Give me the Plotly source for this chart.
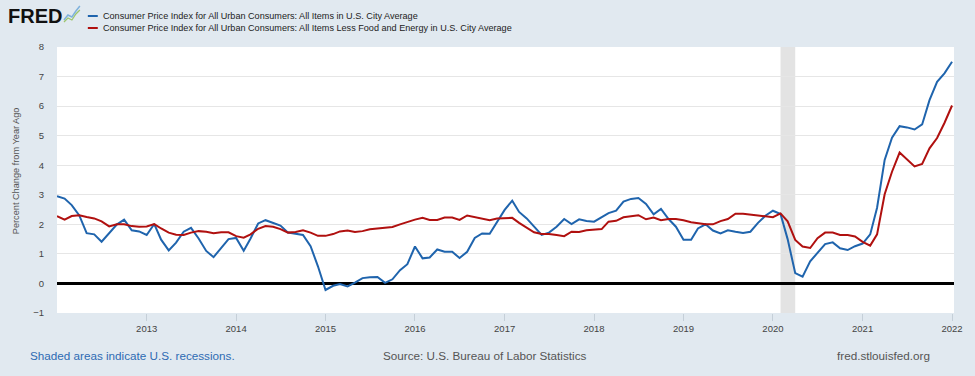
import plotly.graph_objects as go
import pandas as pd

# ---------------- data ----------------
dates = pd.date_range("2012-01-01", "2022-01-01", freq="MS")

cpi_all = [
    2.95, 2.87, 2.65, 2.30, 1.70, 1.66, 1.41, 1.69, 1.99, 2.16, 1.80, 1.76,   # 2012
    1.64, 2.01, 1.48, 1.12, 1.38, 1.75, 1.88, 1.52, 1.10, 0.89, 1.22, 1.50,   # 2013
    1.54, 1.11, 1.52, 2.03, 2.14, 2.05, 1.96, 1.72, 1.67, 1.64, 1.26, 0.58,   # 2014
    -0.22, -0.08, -0.02, -0.10, 0.03, 0.18, 0.21, 0.22, 0.02, 0.14, 0.45, 0.65,  # 2015
    1.25, 0.85, 0.88, 1.15, 1.07, 1.07, 0.86, 1.07, 1.54, 1.69, 1.68, 2.07,   # 2016
    2.49, 2.80, 2.42, 2.20, 1.92, 1.64, 1.72, 1.92, 2.18, 2.01, 2.17, 2.11,   # 2017
    2.09, 2.24, 2.38, 2.46, 2.77, 2.86, 2.89, 2.69, 2.34, 2.52, 2.18, 1.92,   # 2018
    1.48, 1.48, 1.86, 2.00, 1.79, 1.69, 1.80, 1.75, 1.71, 1.75, 2.05, 2.29,   # 2019
    2.46, 2.35, 1.50, 0.35, 0.23, 0.75, 1.05, 1.33, 1.39, 1.19, 1.13, 1.26,   # 2020
    1.35, 1.66, 2.56, 4.18, 4.93, 5.32, 5.28, 5.21, 5.38, 6.20, 6.82, 7.11,   # 2021
    7.50,                                                                     # 2022
]

cpi_core = [
    2.28, 2.16, 2.28, 2.31, 2.25, 2.20, 2.10, 1.93, 2.00, 2.00, 1.94, 1.92,   # 2012
    1.93, 2.01, 1.86, 1.72, 1.65, 1.64, 1.72, 1.77, 1.75, 1.70, 1.73, 1.73,   # 2013
    1.60, 1.55, 1.66, 1.85, 1.94, 1.92, 1.84, 1.72, 1.74, 1.80, 1.72, 1.61,   # 2014
    1.61, 1.67, 1.76, 1.79, 1.74, 1.77, 1.83, 1.85, 1.88, 1.91, 2.00, 2.09,   # 2015
    2.16, 2.22, 2.15, 2.15, 2.23, 2.23, 2.15, 2.30, 2.25, 2.20, 2.14, 2.20,   # 2016
    2.22, 2.22, 2.05, 1.90, 1.73, 1.67, 1.67, 1.64, 1.60, 1.75, 1.74, 1.80,   # 2017
    1.82, 1.84, 2.09, 2.12, 2.24, 2.27, 2.31, 2.17, 2.23, 2.14, 2.18, 2.18,   # 2018
    2.14, 2.07, 2.03, 2.00, 2.00, 2.11, 2.18, 2.36, 2.36, 2.32, 2.30, 2.27,   # 2019
    2.24, 2.37, 2.10, 1.47, 1.25, 1.20, 1.53, 1.72, 1.72, 1.64, 1.64, 1.59,   # 2020
    1.41, 1.28, 1.66, 3.02, 3.78, 4.43, 4.20, 3.96, 4.04, 4.57, 4.92, 5.43,   # 2021
    6.02,                                                                     # 2022
]

series_names = [
    "Consumer Price Index for All Urban Consumers: All Items in U.S. City Average",
    "Consumer Price Index for All Urban Consumers: All Items Less Food and Energy in U.S. City Average",
]
series_colors = ["#1f64ad", "#b0100f"]

recession_start = ["2020-02-01"]
recession_end = ["2020-04-01"]

y_tick_values = list(range(-1, 9))
x_tick_years = list(range(2013, 2023))

# ---------------- layout helpers ----------------
W, H = 975, 376
L, R, T, B = 57, 959, 47, 313


def px(x):
    return (x - L) / (R - L)


def py(y):
    return (B - y) / (B - T)


FONT = "Liberation Sans, Arial, sans-serif"
BG = "#e1e9f0"

fig = go.Figure()
for vals, name, col in zip([cpi_all, cpi_core], series_names, series_colors):
    fig.add_trace(go.Scatter(
        x=dates, y=vals, mode="lines", name=name,
        line=dict(color=col, width=2), showlegend=False,
        hovertemplate="%{x|%Y-%m}: %{y:.1f}<extra></extra>",
    ))

shapes = []
for s, e in zip(recession_start, recession_end):
    shapes.append(dict(type="rect", xref="x", yref="paper", x0=s, x1=e, y0=0, y1=1,
                       fillcolor="#e3e3e3", line=dict(width=0), layer="below"))

# legend swatches
for i, col in enumerate(series_colors):
    yy = py(16 + 12 * i)
    shapes.append(dict(type="line", xref="paper", yref="paper",
                       x0=px(88), x1=px(98), y0=yy, y1=yy,
                       line=dict(color=col, width=2)))

# small FRED chart icon
shapes.append(dict(type="path", xref="paper", yref="paper",
                   path="M {},{} L {},{} L {},{} L {},{} L {},{}".format(
                       px(64), py(20), px(68), py(15), px(72), py(17), px(76), py(11), px(80), py(6)),
                   line=dict(color="#7fb2dc", width=1.5)))
shapes.append(dict(type="path", xref="paper", yref="paper",
                   path="M {},{} L {},{} L {},{} L {},{} L {},{}".format(
                       px(64), py(22), px(68), py(18), px(72), py(20), px(76), py(14), px(80), py(10)),
                   line=dict(color="#9cc56b", width=1.2)))

annotations = [
    dict(text="<b>FRED</b>", x=px(6), y=py(16), xref="paper", yref="paper",
         xanchor="left", yanchor="middle", showarrow=False,
         font=dict(family="Liberation Sans, Arial, sans-serif", size=20, color="#111111")),
]
for i, name in enumerate(series_names):
    annotations.append(dict(text=name, x=px(101), y=py(16 + 12 * i), xref="paper", yref="paper",
                            xanchor="left", yanchor="middle", showarrow=False,
                            font=dict(family=FONT, size=9.1, color="#222222")))

annotations += [
    dict(text="Percent Change from Year Ago", x=px(16), y=py(171), xref="paper", yref="paper",
         xanchor="center", yanchor="middle", textangle=-90, showarrow=False,
         font=dict(family=FONT, size=9.2, color="#555555")),
    dict(text="Shaded areas indicate U.S. recessions.", x=px(28), y=py(355), xref="paper", yref="paper",
         xanchor="left", yanchor="middle", showarrow=False,
         font=dict(family=FONT, size=11.7, color="#2e6bb3")),
    dict(text="Source: U.S. Bureau of Labor Statistics", x=px(383), y=py(355), xref="paper", yref="paper",
         xanchor="left", yanchor="middle", showarrow=False,
         font=dict(family=FONT, size=11.7, color="#555555")),
    dict(text="fred.stlouisfed.org", x=px(937), y=py(355), xref="paper", yref="paper",
         xanchor="right", yanchor="middle", showarrow=False,
         font=dict(family=FONT, size=11.7, color="#555555")),
]

fig.update_layout(
    width=W, height=H,
    margin=dict(l=L, r=W - R, t=T, b=H - B, pad=0),
    paper_bgcolor=BG, plot_bgcolor="white",
    font=dict(family=FONT, size=10, color="#555555"),
    shapes=shapes, annotations=annotations,
    xaxis=dict(
        type="date", range=["2012-01-01", "2022-01-09"],
        tickvals=[f"{y}-01-01" for y in x_tick_years],
        ticktext=[str(y) for y in x_tick_years],
        ticks="outside", ticklen=7, tickcolor="#c5cfd8", tickwidth=1,
        showgrid=False, showline=False, zeroline=False,
        tickfont=dict(family=FONT, size=9.5, color="#444444"),
    ),
    yaxis=dict(
        range=[-1, 8], tickvals=y_tick_values,
        showgrid=True, gridcolor="#e6e6e6", gridwidth=1,
        zeroline=True, zerolinecolor="#000000", zerolinewidth=2.5,
        showline=False, ticks="", ticklabelstandoff=12,
        tickfont=dict(family=FONT, size=9.5, color="#444444"),
    ),
)

fig.write_html(
    "out.html",
    config={"displayModeBar": False},
    post_script="document.body.style.margin='0';document.body.style.background='%s';" % BG,
)
